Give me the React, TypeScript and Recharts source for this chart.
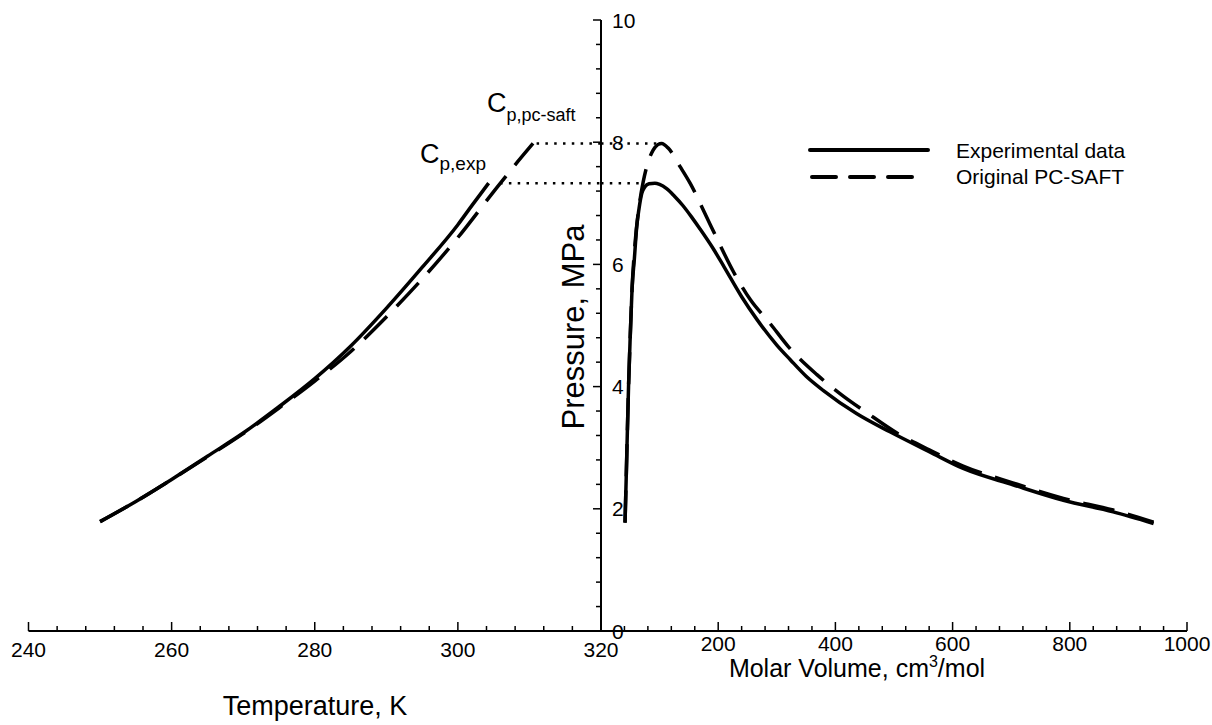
import React from 'react';
import { LineChart, Line, XAxis, YAxis, ReferenceLine } from 'recharts';

const FONT = '"Liberation Sans", Arial, Helvetica, sans-serif';

// vapour pressure curve: temperature (K) vs pressure (MPa)
const expTemp = [250, 255, 260, 265, 270, 275, 280, 285, 290, 295, 300, 302, 304.3];
const expPresT = [1.79, 2.12, 2.48, 2.86, 3.24, 3.67, 4.13, 4.66, 5.28, 5.95, 6.65, 6.97, 7.33];
const saftTemp = [250, 255, 260, 265, 270, 275, 280, 285, 290, 295, 300, 305, 308, 310.5];
const saftPresT = [1.79, 2.12, 2.48, 2.85, 3.23, 3.65, 4.09, 4.57, 5.14, 5.76, 6.44, 7.19, 7.63, 7.98];

// saturation dome: molar volume (cm3/mol) vs pressure (MPa)
const expVol = [41, 43, 45, 47, 50, 53, 57, 61, 65, 69.5, 75, 82, 92, 100, 112, 125, 140, 155, 169, 190, 210, 240, 266, 300, 323, 350, 379, 436, 493, 561, 618, 704, 789, 874, 943];
const expPresV = [1.77, 2.5, 3.27, 4.0, 4.85, 5.6, 6.1, 6.62, 6.92, 7.16, 7.27, 7.32, 7.33, 7.31, 7.24, 7.12, 6.96, 6.77, 6.58, 6.28, 5.96, 5.47, 5.1, 4.68, 4.44, 4.17, 3.94, 3.56, 3.26, 2.93, 2.66, 2.39, 2.14, 1.95, 1.76];
const saftVol = [41, 43, 45, 47, 50, 53, 58, 65, 72, 78, 89, 97, 103.5, 115, 135, 152, 180, 195, 226, 255, 288, 320, 368, 410, 454, 505, 561, 618, 704, 789, 874, 943];
const saftPresV = [1.78, 2.5, 3.27, 4.0, 4.85, 5.6, 6.33, 6.95, 7.35, 7.6, 7.87, 7.96, 7.98, 7.9, 7.6, 7.33, 6.78, 6.48, 5.88, 5.42, 5.04, 4.65, 4.2, 3.87, 3.57, 3.24, 2.96, 2.7, 2.42, 2.17, 1.98, 1.78];

// dotted guides between the two panels: [temperature start, volume end, pressure]
const expCrit = [305.9, 70, 7.33];
const saftCrit = [311, 103.5, 7.98];

const tempTicks = [240, 244, 248, 252, 256, 260, 264, 268, 272, 276, 280, 284, 288, 292, 296, 300, 304, 308, 312, 316, 320];
const tempLabels = [240, 260, 280, 300, 320];
const volTicks = [0, 40, 80, 120, 160, 200, 240, 280, 320, 360, 400, 440, 480, 520, 560, 600, 640, 680, 720, 760, 800, 840, 880, 920, 960, 1000];
const volLabels = [200, 400, 600, 800, 1000];
const presTicks = [0, 0.4, 0.8, 1.2, 1.6, 2, 2.4, 2.8, 3.2, 3.6, 4, 4.4, 4.8, 5.2, 5.6, 6, 6.4, 6.8, 7.2, 7.6, 8, 8.4, 8.8, 9.2, 9.6, 10];
const presLabels = [0, 2, 4, 6, 8, 10];

const expT = expTemp.map((t, i) => ({ t, p: expPresT[i] }));
const saftT = saftTemp.map((t, i) => ({ t, p: saftPresT[i] }));
const expV = expVol.map((v, i) => ({ v, p: expPresV[i] }));
const saftV = saftVol.map((v, i) => ({ v, p: saftPresV[i] }));

const dotted = { stroke: '#000', strokeWidth: 2.5, strokeDasharray: '2.5 6.3' };
const axisLine = { stroke: '#000', strokeWidth: 2 };

const makeXTick = (labels: number[], labelDy: number) => (props: any) => {
  const { x, y, payload } = props;
  const major = labels.includes(payload.value);
  return (
    <g>
      <line x1={x} x2={x} y1={y} y2={y - (major ? 9 : 5)} stroke="#000" strokeWidth={1.5} />
      {major && (
        <text x={x} y={y + labelDy} textAnchor="middle" fontSize={21} fontFamily={FONT} fill="#000">
          {payload.value}
        </text>
      )}
    </g>
  );
};

const YTick = (props: any) => {
  const { x, y, payload } = props;
  const major = presLabels.includes(payload.value);
  return (
    <g>
      <line x1={x - (major ? 8 : 5)} x2={x} y1={y} y2={y} stroke="#000" strokeWidth={1.5} />
      {major && (
        <text x={x + 11} y={y} dy="0.36em" textAnchor="start" fontSize={21} fontFamily={FONT} fill="#000">
          {payload.value}
        </text>
      )}
    </g>
  );
};

const App = () => {
  return (
    <div style={{ position: 'absolute', left: 0, top: 0, width: 1212, height: 725, background: '#fff', fontFamily: FONT }}>
      {/* temperature panel */}
      <div style={{ position: 'absolute', left: 0, top: 0 }}>
        <LineChart width={640} height={725} margin={{ top: 20, right: 39, bottom: 0, left: 28.5 }}>
          <XAxis
            type="number"
            dataKey="t"
            domain={[240, 320]}
            ticks={tempTicks}
            interval={0}
            height={94}
            tickSize={0}
            tickMargin={0}
            tickLine={false}
            axisLine={axisLine}
            tick={makeXTick(tempLabels, 26)}
            allowDataOverflow
          />
          <YAxis type="number" domain={[0, 10]} hide />
          <ReferenceLine segment={[{ x: saftCrit[0], y: saftCrit[2] }, { x: 320, y: saftCrit[2] }]} {...dotted} />
          <ReferenceLine segment={[{ x: expCrit[0], y: expCrit[2] }, { x: 320, y: expCrit[2] }]} {...dotted} />
          <Line data={expT} dataKey="p" type="monotone" stroke="#000" strokeWidth={3.5} dot={false} isAnimationActive={false} />
          <Line data={saftT} dataKey="p" type="monotone" stroke="#000" strokeWidth={3.5} strokeDasharray="32 14" dot={false} isAnimationActive={false} />
        </LineChart>
      </div>

      {/* molar volume panel */}
      <div style={{ position: 'absolute', left: 581, top: 0 }}>
        <LineChart width={631} height={725} margin={{ top: 20, right: 25, bottom: 0, left: 19 }}>
          <XAxis
            type="number"
            dataKey="v"
            domain={[0, 1000]}
            ticks={volTicks}
            interval={0}
            height={94}
            tickSize={0}
            tickMargin={0}
            tickLine={false}
            axisLine={axisLine}
            tick={makeXTick(volLabels, 20)}
          />
          <YAxis
            type="number"
            domain={[0, 10]}
            ticks={presTicks}
            interval={0}
            width={1}
            tickSize={0}
            tickMargin={0}
            tickLine={false}
            axisLine={axisLine}
            tick={YTick}
          />
          <ReferenceLine segment={[{ x: 0, y: saftCrit[2] }, { x: saftCrit[1], y: saftCrit[2] }]} {...dotted} />
          <ReferenceLine segment={[{ x: 0, y: expCrit[2] }, { x: expCrit[1], y: expCrit[2] }]} {...dotted} />
          <Line data={expV} dataKey="p" type="monotone" stroke="#000" strokeWidth={3.5} dot={false} isAnimationActive={false} />
          <Line data={saftV} dataKey="p" type="monotone" stroke="#000" strokeWidth={3.5} strokeDasharray="32 14" dot={false} isAnimationActive={false} />
        </LineChart>
      </div>

      {/* titles, annotations and legend */}
      <svg width={1212} height={725} style={{ position: 'absolute', left: 0, top: 0, pointerEvents: 'none' }} fontFamily={FONT} fill="#000">
        <text x={315} y={715} fontSize={27} textAnchor="middle">Temperature, K</text>
        <text x={857} y={677} fontSize={25} textAnchor="middle">
          Molar Volume, cm<tspan fontSize={16} dy={-10}>3</tspan><tspan dy={10}>/mol</tspan>
        </text>
        <text transform="translate(584 327) rotate(-90)" fontSize={31} textAnchor="middle">Pressure, MPa</text>

        <text x={420} y={163} fontSize={27}>C<tspan fontSize={19} dy={7}>p,exp</tspan></text>
        <text x={487} y={112} fontSize={27}>C<tspan fontSize={18} dy={9}>p,pc-saft</tspan></text>

        <line x1={810} x2={928} y1={150} y2={150} stroke="#000" strokeWidth={4} strokeLinecap="round" />
        <line x1={812} x2={914} y1={177} y2={177} stroke="#000" strokeWidth={4} strokeLinecap="round" strokeDasharray="24 14" />
        <text x={956} y={158} fontSize={21}>Experimental data</text>
        <text x={956} y={184} fontSize={21}>Original PC-SAFT</text>
      </svg>
    </div>
  );
};

export default App;
